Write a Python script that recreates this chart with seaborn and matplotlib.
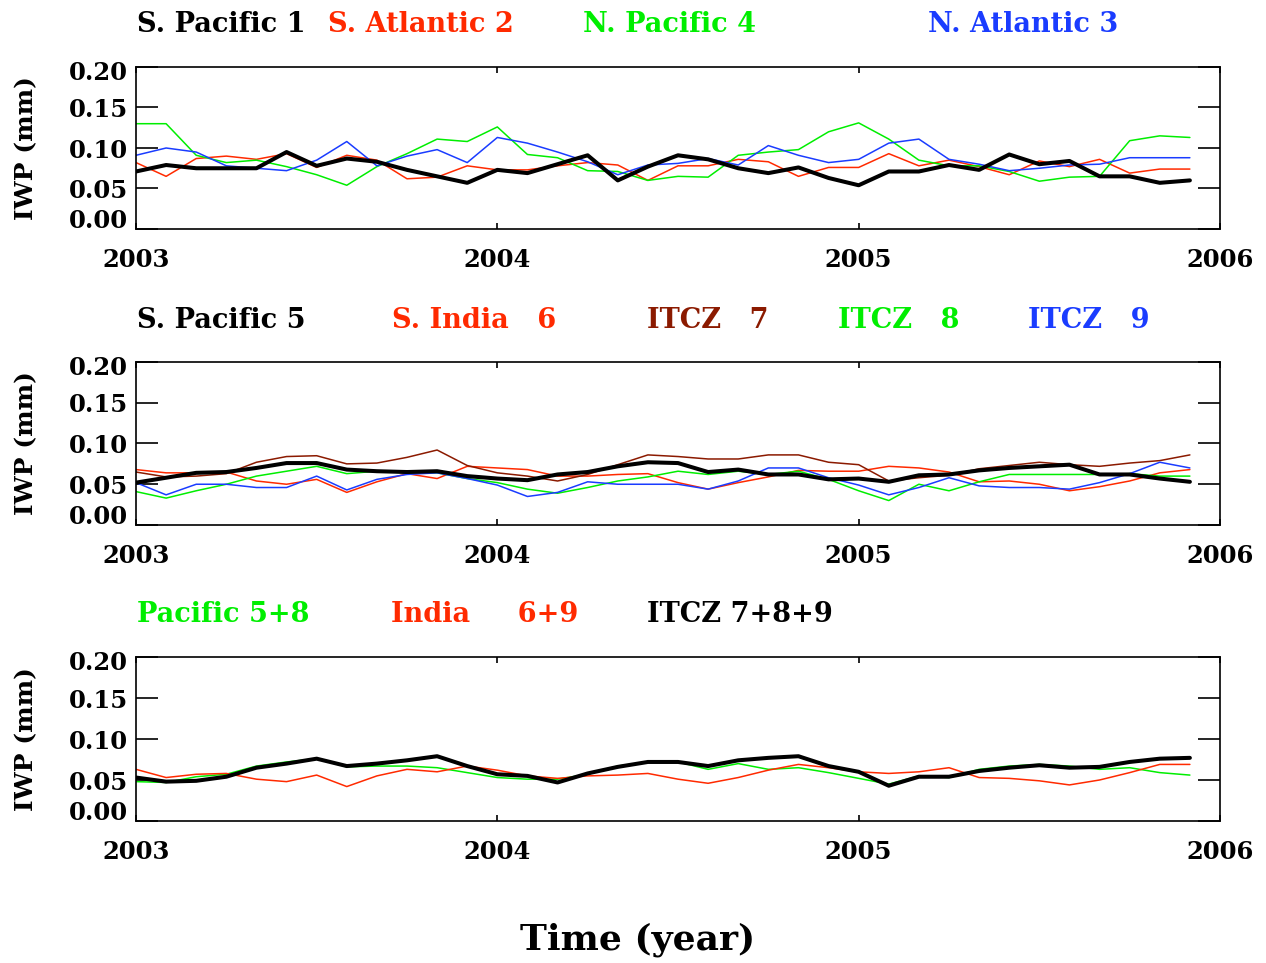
import numpy as np
import pandas as pd
import matplotlib
matplotlib.use("Agg")
import matplotlib.pyplot as plt
import matplotlib.transforms as mtransforms
import seaborn as sns

# ---- data (monthly, Jan 2003 .. Dec 2005) ----
months = 2003 + np.arange(36) / 12.0

s_pacific_1 = [0.071, 0.079, 0.075, 0.075, 0.075, 0.095, 0.078, 0.087, 0.083, 0.073, 0.065, 0.057,
               0.073, 0.069, 0.080, 0.091, 0.060, 0.077, 0.091, 0.086, 0.075, 0.069, 0.076, 0.063,
               0.054, 0.071, 0.071, 0.079, 0.073, 0.092, 0.080, 0.084, 0.065, 0.065, 0.057, 0.060]
s_atlantic_2 = [0.082, 0.065, 0.087, 0.090, 0.086, 0.093, 0.076, 0.091, 0.085, 0.062, 0.064, 0.078,
                0.073, 0.073, 0.078, 0.082, 0.079, 0.060, 0.078, 0.078, 0.086, 0.083, 0.065, 0.076,
                0.076, 0.093, 0.078, 0.085, 0.077, 0.067, 0.084, 0.077, 0.086, 0.069, 0.074, 0.074]
n_pacific_4 = [0.130, 0.130, 0.091, 0.082, 0.085, 0.077, 0.067, 0.054, 0.077, 0.093, 0.111, 0.108,
               0.126, 0.092, 0.088, 0.072, 0.071, 0.060, 0.065, 0.064, 0.091, 0.095, 0.098, 0.120,
               0.131, 0.111, 0.085, 0.078, 0.078, 0.071, 0.059, 0.064, 0.065, 0.109, 0.115, 0.113]
n_atlantic_3 = [0.091, 0.100, 0.095, 0.078, 0.075, 0.072, 0.085, 0.108, 0.078, 0.090, 0.098, 0.082,
                0.113, 0.106, 0.095, 0.083, 0.067, 0.079, 0.081, 0.087, 0.079, 0.103, 0.091, 0.082,
                0.086, 0.106, 0.111, 0.086, 0.080, 0.072, 0.075, 0.079, 0.080, 0.088, 0.088, 0.088]

s_pacific_5 = [0.052, 0.058, 0.064, 0.065, 0.070, 0.076, 0.076, 0.068, 0.066, 0.065, 0.066, 0.060,
               0.057, 0.055, 0.062, 0.065, 0.072, 0.077, 0.076, 0.065, 0.068, 0.062, 0.062, 0.056,
               0.057, 0.053, 0.061, 0.062, 0.067, 0.070, 0.072, 0.074, 0.062, 0.062, 0.057, 0.053]
s_india_6 = [0.068, 0.064, 0.064, 0.065, 0.054, 0.050, 0.056, 0.040, 0.053, 0.063, 0.057, 0.072,
             0.070, 0.068, 0.060, 0.060, 0.062, 0.063, 0.052, 0.044, 0.052, 0.059, 0.067, 0.066,
             0.066, 0.072, 0.070, 0.065, 0.053, 0.054, 0.050, 0.042, 0.047, 0.054, 0.064, 0.068]
itcz_7 = [0.065, 0.059, 0.060, 0.063, 0.077, 0.084, 0.085, 0.075, 0.076, 0.083, 0.092, 0.073,
          0.064, 0.060, 0.054, 0.062, 0.074, 0.086, 0.084, 0.081, 0.081, 0.086, 0.086, 0.077,
          0.074, 0.054, 0.058, 0.061, 0.069, 0.073, 0.077, 0.074, 0.072, 0.076, 0.079, 0.086]
itcz_8 = [0.041, 0.033, 0.042, 0.050, 0.060, 0.066, 0.072, 0.063, 0.066, 0.064, 0.064, 0.057,
          0.052, 0.044, 0.039, 0.046, 0.054, 0.059, 0.066, 0.062, 0.066, 0.062, 0.066, 0.056,
          0.042, 0.030, 0.050, 0.042, 0.053, 0.062, 0.062, 0.062, 0.062, 0.063, 0.060, 0.060]
itcz_9 = [0.052, 0.037, 0.050, 0.050, 0.046, 0.046, 0.060, 0.043, 0.056, 0.062, 0.064, 0.057,
          0.049, 0.035, 0.040, 0.053, 0.050, 0.050, 0.050, 0.044, 0.054, 0.070, 0.070, 0.058,
          0.049, 0.037, 0.046, 0.058, 0.048, 0.046, 0.046, 0.044, 0.052, 0.063, 0.077, 0.070]

itcz_789 = [0.053, 0.048, 0.049, 0.054, 0.065, 0.070, 0.076, 0.067, 0.070, 0.074, 0.079, 0.067,
            0.057, 0.055, 0.047, 0.058, 0.066, 0.072, 0.072, 0.067, 0.074, 0.077, 0.079, 0.067,
            0.060, 0.043, 0.054, 0.054, 0.061, 0.065, 0.068, 0.065, 0.066, 0.072, 0.076, 0.077]
pacific_58 = [0.048, 0.047, 0.054, 0.057, 0.067, 0.072, 0.076, 0.066, 0.067, 0.067, 0.065, 0.059,
              0.053, 0.051, 0.051, 0.057, 0.067, 0.072, 0.072, 0.063, 0.070, 0.063, 0.065, 0.059,
              0.052, 0.045, 0.055, 0.053, 0.063, 0.067, 0.069, 0.067, 0.063, 0.065, 0.059, 0.056]
india_69 = [0.063, 0.053, 0.057, 0.058, 0.051, 0.048, 0.056, 0.042, 0.055, 0.063, 0.060, 0.067,
            0.062, 0.055, 0.052, 0.055, 0.056, 0.058, 0.051, 0.046, 0.053, 0.062, 0.069, 0.065,
            0.060, 0.058, 0.060, 0.065, 0.053, 0.052, 0.049, 0.044, 0.050, 0.059, 0.069, 0.069]

year_ticks = [2003, 2004, 2005, 2006]
iwp_ticks = [0.00, 0.05, 0.10, 0.15, 0.20]

RED = "#ff2a00"
GREEN = "#00ee00"
BLUE = "#1a3cff"
BROWN = "#8b1a00"
BLACK = "#000000"

panels = [
    [("S. Pacific 1", s_pacific_1, BLACK, True),
     ("S. Atlantic 2", s_atlantic_2, RED, False),
     ("N. Pacific 4", n_pacific_4, GREEN, False),
     ("N. Atlantic 3", n_atlantic_3, BLUE, False)],
    [("S. Pacific 5", s_pacific_5, BLACK, True),
     ("S. India   6", s_india_6, RED, False),
     ("ITCZ   7", itcz_7, BROWN, False),
     ("ITCZ   8", itcz_8, GREEN, False),
     ("ITCZ   9", itcz_9, BLUE, False)],
    [("Pacific 5+8", pacific_58, GREEN, False),
     ("India     6+9", india_69, RED, False),
     ("ITCZ 7+8+9", itcz_789, BLACK, True)],
]
label_x = [[137, 328, 583, 928],
           [137, 392, 647, 838, 1028],
           [137, 391, 647]]
label_y = [24, 320, 615]

sns.set_theme(style="white")
plt.rcParams["font.family"] = ["DejaVu Serif", "DejaVu Sans"]
plt.rcParams["font.weight"] = "bold"
plt.rcParams["axes.edgecolor"] = "black"

W, H = 1266, 963
fig = plt.figure(figsize=(W / 100, H / 100), dpi=100)

boxes = [(67, 229), (362, 525), (657, 821)]
left, right = 136, 1220

for p, (series, (top, bot)) in enumerate(zip(panels, boxes)):
    ax = fig.add_axes([left / W, 1 - bot / H, (right - left) / W, (bot - top) / H])
    order = sorted(range(len(series)), key=lambda k: series[k][3])
    for k in order:
        name, vals, col, thick = series[k]
        df = pd.DataFrame({"year": months, "iwp": vals})
        sns.lineplot(data=df, x="year", y="iwp", ax=ax, color=col,
                     linewidth=2.9 if thick else 1.1, estimator=None, legend=False)
    ax.set_xlim(2003, 2006)
    ax.set_ylim(0, 0.2)
    ax.set_xticks(year_ticks)
    ax.set_xticklabels([str(y) for y in year_ticks], fontweight="bold")
    ax.set_yticks(iwp_ticks)
    ax.set_yticklabels([f"{v:.2f}" for v in iwp_ticks], fontweight="bold")
    ax.tick_params(axis="y", direction="in", length=16, width=1.2, left=True, right=True,
                   labelsize=17.5, pad=6, colors="black")
    ax.tick_params(axis="x", direction="in", length=4, width=1.2, top=True, bottom=True,
                   labelsize=17.5, pad=14, colors="black")
    labs = ax.get_yticklabels()
    labs[0].set_va("center")
    labs[0].set_transform(labs[0].get_transform() +
                          mtransforms.ScaledTranslation(0, 8 / 100, fig.dpi_scale_trans))
    labs[-1].set_va("center")
    labs[-1].set_transform(labs[-1].get_transform() +
                           mtransforms.ScaledTranslation(0, -6 / 100, fig.dpi_scale_trans))
    for s in ax.spines.values():
        s.set_linewidth(1.2)
        s.set_color("black")
    ax.set_xlabel("")
    ax.set_ylabel("IWP (mm)", fontsize=18, fontweight="bold", labelpad=22, color="black")
    for k, (name, vals, col, thick) in enumerate(series):
        fig.text(label_x[p][k] / W, 1 - label_y[p] / H, name, color=col,
                 fontsize=19.5, fontweight="bold", ha="left", va="center")

fig.text(638 / W, 1 - 940 / H, "Time (year)", fontsize=26, fontweight="bold",
         ha="center", va="center", color="black")

fig.savefig("out.png", dpi=100)
